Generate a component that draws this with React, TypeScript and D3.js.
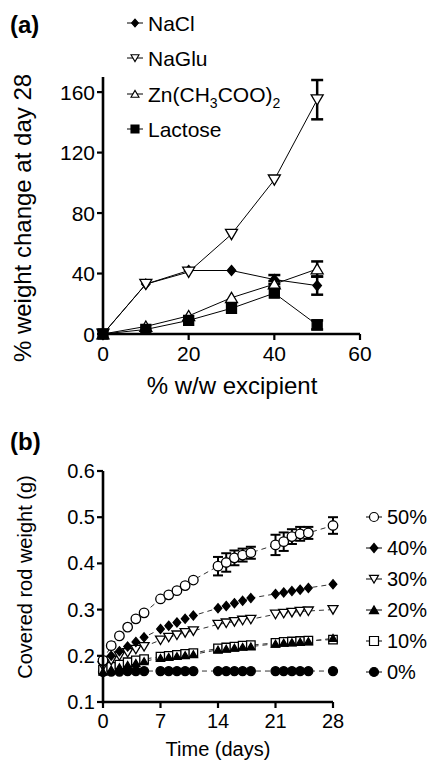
import React from 'react';
import * as d3 from 'd3';

// ---------- Panel (a) data ----------
const excipientPct = [0, 10, 20, 30, 40, 50];
const naclVals = [0, 33, 42, 42, 36, 32];
const naclErr = [0, 0, 0, 0, 3, 6];
const naGluVals = [0, 33, 41, 66, 102, 155];
const naGluErr = [0, 0, 0, 0, 0, 13];
const znVals = [0, 5, 12, 24, 33, 43];
const znErr = [0, 0, 0, 0, 2, 5];
const lactoseVals = [0, 3, 9, 17, 27, 6];
const lactoseErr = [0, 0, 0, 0, 0, 3];
const aXTicks = [0, 20, 40, 60];
const aYTicks = [0, 40, 80, 120, 160];

// ---------- Panel (b) data ----------
const days = [0, 1, 2, 3, 4, 5, 7, 8, 9, 10, 11, 14, 15, 16, 17, 18, 21, 22, 23, 24, 25, 28];
const w50 = [0.19, 0.222, 0.243, 0.262, 0.28, 0.293, 0.323, 0.332, 0.341, 0.352, 0.364, 0.394, 0.402, 0.412, 0.418, 0.423, 0.44, 0.447, 0.458, 0.464, 0.466, 0.482];
const w50Err = [0, 0, 0, 0, 0, 0, 0, 0, 0, 0, 0, 0.02, 0.02, 0.016, 0.014, 0.013, 0.022, 0.02, 0.016, 0.015, 0.013, 0.018];
const w40 = [0.185, 0.2, 0.21, 0.22, 0.23, 0.24, 0.258, 0.265, 0.272, 0.28, 0.287, 0.303, 0.308, 0.314, 0.319, 0.325, 0.334, 0.337, 0.34, 0.343, 0.347, 0.355];
const w30 = [0.178, 0.19, 0.2, 0.207, 0.214, 0.22, 0.234, 0.24, 0.245, 0.25, 0.254, 0.268, 0.271, 0.274, 0.277, 0.279, 0.29, 0.292, 0.294, 0.296, 0.297, 0.3];
const w20 = [0.165, 0.17, 0.175, 0.18, 0.184, 0.188, 0.195, 0.197, 0.199, 0.201, 0.203, 0.213, 0.215, 0.217, 0.219, 0.22, 0.226, 0.228, 0.229, 0.23, 0.231, 0.238];
const w10 = [0.17, 0.176, 0.181, 0.186, 0.19, 0.193, 0.198, 0.2, 0.202, 0.204, 0.206, 0.216, 0.218, 0.22, 0.222, 0.223, 0.228, 0.23, 0.231, 0.232, 0.233, 0.235];
const w0 = [0.165, 0.166, 0.166, 0.167, 0.167, 0.167, 0.167, 0.167, 0.167, 0.167, 0.167, 0.167, 0.167, 0.167, 0.167, 0.167, 0.167, 0.167, 0.167, 0.167, 0.167, 0.167];
const bXTicks = [0, 7, 14, 21, 28];
const bYTicks = [0.1, 0.2, 0.3, 0.4, 0.5, 0.6];

const FONT = "'Liberation Sans', Arial, Helvetica, sans-serif";

type Shape = 'diamond' | 'triDown' | 'triUp' | 'square' | 'circle';

function markerPath(shape: Shape, x: number, y: number, s: number): string {
  const h = s / 2;
  switch (shape) {
    case 'diamond':
      return `M${x},${y - h}L${x + h * 0.85},${y}L${x},${y + h}L${x - h * 0.85},${y}Z`;
    case 'triDown':
      return `M${x - h},${y - h * 0.8}L${x + h},${y - h * 0.8}L${x},${y + h * 0.9}Z`;
    case 'triUp':
      return `M${x - h},${y + h * 0.8}L${x + h},${y + h * 0.8}L${x},${y - h * 0.9}Z`;
    case 'square':
      return `M${x - h},${y - h}H${x + h}V${y + h}H${x - h}Z`;
    case 'circle':
    default:
      return `M${x - h},${y}A${h},${h} 0 1,0 ${x + h},${y}A${h},${h} 0 1,0 ${x - h},${y}Z`;
  }
}

function Marker({ shape, x, y, s, filled, sw = 1.3 }: { shape: Shape; x: number; y: number; s: number; filled: boolean; sw?: number }) {
  return (
    <path d={markerPath(shape, x, y, s)} fill={filled ? '#000' : '#fff'} stroke="#000" strokeWidth={sw} strokeLinejoin="miter" />
  );
}

function ErrorBar({ x, y1, y2, cap = 5, sw = 2.5 }: { x: number; y1: number; y2: number; cap?: number; sw?: number }) {
  return (
    <g stroke="#000" strokeWidth={sw}>
      <line x1={x} x2={x} y1={y1} y2={y2} />
      <line x1={x - cap} x2={x + cap} y1={y1} y2={y1} />
      <line x1={x - cap} x2={x + cap} y1={y2} y2={y2} />
    </g>
  );
}

function PanelA() {
  const x = d3.scaleLinear().domain([0, 60]).range([103, 360]);
  const y = d3.scaleLinear().domain([0, 170]).range([334, 77]);
  const line = d3.line<[number, number]>().x((d) => x(d[0])).y((d) => y(d[1]));
  const series: { name: string; vals: number[]; err: number[]; shape: Shape; filled: boolean; size: number }[] = [
    { name: 'NaCl', vals: naclVals, err: naclErr, shape: 'diamond', filled: true, size: 10 },
    { name: 'NaGlu', vals: naGluVals, err: naGluErr, shape: 'triDown', filled: false, size: 12 },
    { name: 'Zn', vals: znVals, err: znErr, shape: 'triUp', filled: false, size: 12 },
    { name: 'Lactose', vals: lactoseVals, err: lactoseErr, shape: 'square', filled: true, size: 10 },
  ];
  const legendRows = [
    { shape: 'diamond' as Shape, filled: true, label: <tspan>NaCl</tspan> },
    { shape: 'triDown' as Shape, filled: false, label: <tspan>NaGlu</tspan> },
    {
      shape: 'triUp' as Shape,
      filled: false,
      label: (
        <>
          <tspan>Zn(CH</tspan>
          <tspan fontSize={14} dy={6}>3</tspan>
          <tspan dy={-6}>COO)</tspan>
          <tspan fontSize={14} dy={6}>2</tspan>
        </>
      ),
    },
    { shape: 'square' as Shape, filled: true, label: <tspan>Lactose</tspan> },
  ];
  const legendY = [23, 58, 94, 129];
  return (
    <g fontFamily={FONT}>
      <text x={10} y={33} fontSize={24} fontWeight="bold">(a)</text>
      {/* legend */}
      {legendRows.map((r, i) => (
        <g key={i}>
          <line x1={127} x2={143} y1={legendY[i]} y2={legendY[i]} stroke="#000" strokeWidth={1} />
          <Marker shape={r.shape} x={135} y={legendY[i]} s={8} filled={r.filled} sw={1.1} />
          <text x={148} y={legendY[i] + 7.5} fontSize={21}>{r.label}</text>
        </g>
      ))}
      {/* lines */}
      {series.map((s) => (
        <path key={s.name + 'l'} d={line(excipientPct.map((p, i) => [p, s.vals[i]] as [number, number])) || ''} fill="none" stroke="#000" strokeWidth={1} />
      ))}
      {/* error bars */}
      {series.map((s) =>
        excipientPct.map((p, i) =>
          s.err[i] > 0 ? <ErrorBar key={s.name + 'e' + i} x={x(p)} y1={y(s.vals[i] + s.err[i])} y2={y(s.vals[i] - s.err[i])} cap={6} sw={2.5} /> : null
        )
      )}
      {/* markers */}
      {series.map((s) =>
        excipientPct.map((p, i) => (
          <Marker key={s.name + 'm' + i} shape={s.shape} x={x(p)} y={y(s.vals[i])} s={s.size} filled={s.filled} sw={1.3} />
        ))
      )}
      {/* axes */}
      <line x1={x(0)} x2={x(60)} y1={y(0)} y2={y(0)} stroke="#000" strokeWidth={2.6} />
      <line x1={x(0)} x2={x(0)} y1={y(0) + 1.3} y2={y(170)} stroke="#000" strokeWidth={2.6} />
      {aXTicks.map((t) => (
        <g key={'ax' + t}>
          <line x1={x(t)} x2={x(t)} y1={y(0)} y2={y(0) + 6} stroke="#000" strokeWidth={2.2} />
          <text x={x(t)} y={y(0) + 27} fontSize={21} textAnchor="middle">{t}</text>
        </g>
      ))}
      {aYTicks.map((t) => (
        <g key={'ay' + t}>
          <line x1={x(0) - 6} x2={x(0)} y1={y(t)} y2={y(t)} stroke="#000" strokeWidth={2.2} />
          <text x={x(0) - 8} y={y(t) + 7.5} fontSize={21} textAnchor="end">{t}</text>
        </g>
      ))}
      <text x={232} y={394} fontSize={24} textAnchor="middle">% w/w excipient</text>
      <text transform={`translate(31,218) rotate(-90)`} fontSize={24} textAnchor="middle">% weight change at day 28</text>
    </g>
  );
}

function PanelB() {
  const x = d3.scaleLinear().domain([0, 28]).range([103, 333]);
  const y = d3.scaleLinear().domain([0.1, 0.6]).range([702, 471]);
  const line = d3.line<[number, number]>().x((d) => x(d[0])).y((d) => y(d[1]));
  const series: { name: string; vals: number[]; err?: number[]; shape: Shape; filled: boolean; size: number }[] = [
    { name: '0%', vals: w0, shape: 'circle', filled: true, size: 9 },
    { name: '10%', vals: w10, shape: 'square', filled: false, size: 8.5 },
    { name: '20%', vals: w20, shape: 'triUp', filled: true, size: 8 },
    { name: '30%', vals: w30, shape: 'triDown', filled: false, size: 10 },
    { name: '40%', vals: w40, shape: 'diamond', filled: true, size: 9 },
    { name: '50%', vals: w50, err: w50Err, shape: 'circle', filled: false, size: 9.5 },
  ];
  const legend = [
    { label: '50%', shape: 'circle' as Shape, filled: false },
    { label: '40%', shape: 'diamond' as Shape, filled: true },
    { label: '30%', shape: 'triDown' as Shape, filled: false },
    { label: '20%', shape: 'triUp' as Shape, filled: true },
    { label: '10%', shape: 'square' as Shape, filled: false },
    { label: '0%', shape: 'circle' as Shape, filled: true },
  ];
  return (
    <g fontFamily={FONT}>
      <text x={10} y={450} fontSize={24} fontWeight="bold">(b)</text>
      {series.map((s) => (
        <path key={s.name + 'l'} d={line(days.map((d, i) => [d, s.vals[i]] as [number, number])) || ''} fill="none" stroke="#333" strokeWidth={1} strokeDasharray="5,4" />
      ))}
      {series.map((s) =>
        s.err
          ? days.map((d, i) =>
              s.err![i] > 0 ? <ErrorBar key={s.name + 'e' + i} x={x(d)} y1={y(s.vals[i] + s.err![i])} y2={y(s.vals[i] - s.err![i])} cap={5} sw={2} /> : null
            )
          : null
      )}
      {series.map((s) =>
        days.map((d, i) => (
          <Marker key={s.name + 'm' + i} shape={s.shape} x={x(d)} y={y(s.vals[i])} s={s.size} filled={s.filled} sw={1.3} />
        ))
      )}
      {/* axes */}
      <line x1={x(0)} x2={x(28)} y1={y(0.1)} y2={y(0.1)} stroke="#000" strokeWidth={2.6} />
      <line x1={x(0)} x2={x(0)} y1={y(0.1) + 1.3} y2={y(0.6)} stroke="#000" strokeWidth={2.6} />
      {bXTicks.map((t) => (
        <g key={'bx' + t}>
          <line x1={x(t)} x2={x(t)} y1={y(0.1)} y2={y(0.1) + 6} stroke="#000" strokeWidth={2.2} />
          <text x={x(t)} y={y(0.1) + 26} fontSize={20} textAnchor="middle">{t}</text>
        </g>
      ))}
      {bYTicks.map((t) => (
        <g key={'by' + t}>
          <line x1={x(0) - 6} x2={x(0)} y1={y(t)} y2={y(t)} stroke="#000" strokeWidth={2.2} />
          <text x={x(0) - 8} y={y(t) + 7} fontSize={20} textAnchor="end">{t.toFixed(1)}</text>
        </g>
      ))}
      <text x={218} y={756} fontSize={20} textAnchor="middle">Time (days)</text>
      <text transform={`translate(32,577) rotate(-90)`} fontSize={20} textAnchor="middle">Covered rod weight (g)</text>
      {legend.map((r, i) => {
        const ly = 517 + i * 31;
        return (
          <g key={r.label}>
            <line x1={366} x2={382} y1={ly} y2={ly} stroke="#000" strokeWidth={1} />
            <Marker shape={r.shape} x={374} y={ly} s={9} filled={r.filled} sw={1.2} />
            <text x={387} y={ly + 7} fontSize={20}>{r.label}</text>
          </g>
        );
      })}
    </g>
  );
}

export default function App() {
  return (
    <svg width={430} height={760} style={{ position: 'absolute', left: 0, top: 0, background: '#fff' }}>
      <rect x={0} y={0} width={430} height={760} fill="#fff" />
      <PanelA />
      <PanelB />
    </svg>
  );
}
